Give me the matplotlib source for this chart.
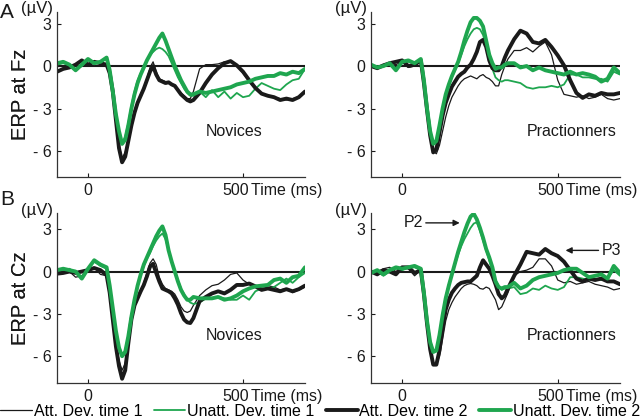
import numpy as np
import matplotlib
matplotlib.use("Agg")
import matplotlib.pyplot as plt
from matplotlib.transforms import ScaledTranslation

plt.rcParams['font.family'] = ['Liberation Sans', 'DejaVu Sans']

# time axis (ms), shared by every curve
t = [-100, -80, -60, -40, -20, 0, 20, 40, 60,
     70, 80, 90, 100, 110, 120, 130, 140, 150, 160, 170, 180, 190, 200,
     210, 220, 230, 240, 250, 260, 270, 280, 290, 300, 310, 320, 330, 340,
     360, 380, 400, 420, 440, 460, 480, 500, 520, 540, 560, 580, 600, 620,
     640, 660, 680, 700]

# --- A: Fz, novices
fz_nov_att1 = [-0.4, -0.2, -0.1, 0.1, 0.4, 0.1, 0.3, 0.2, 0.1,
               -0.5, -1.8, -3.7, -5.6, -6.5, -6.1, -5.2, -4.1, -3.2, -2.5, -2.0, -1.5, -0.9, -0.1,
               0.3, -0.4, -0.9, -1.0, -1.1, -1.1, -1.3, -1.4, -1.7, -1.9, -2.1, -2.3, -2.3, -1.8,
               -0.2, 0.1, 0.1, 0.15, 0.3, 0.3, 0.0, -0.5, -1.1, -1.6, -2.0, -2.1, -2.2, -2.3,
               -2.4, -2.3, -2.2, -1.9]
fz_nov_unatt1 = [0.1, 0.2, 0.1, -0.2, 0.0, 0.4, 0.2, 0.3, 0.5,
                 -0.3, -1.8, -3.4, -4.6, -5.4, -5.0, -4.0, -2.8, -1.8, -1.0, -0.5, 0.0, 0.4, 0.8,
                 1.0, 1.2, 1.3, 1.2, 1.0, 0.7, 0.2, -0.3, -0.8, -1.2, -1.6, -1.9, -2.1, -2.1,
                 -1.8, -2.2, -1.7, -2.2, -1.8, -2.3, -1.9, -2.2, -2.1, -1.6, -1.2, -1.4, -1.6, -1.7,
                 -1.3, -1.0, -0.9, -0.2]
fz_nov_att2 = [-0.4, -0.2, -0.1, 0.1, 0.4, 0.1, 0.3, 0.2, 0.1,
               -0.5, -1.8, -3.8, -5.8, -6.8, -6.4, -5.3, -4.2, -3.3, -2.6, -2.1, -1.6, -1.0, -0.4,
               0.0, -0.6, -1.0, -1.1, -1.2, -1.15, -1.3, -1.4, -1.7, -2.0, -2.2, -2.4, -2.5, -2.4,
               -1.9, -1.2, -0.6, -0.15, 0.2, 0.35, 0.05, -0.4, -1.0, -1.55, -1.95, -2.1, -2.2, -2.4,
               -2.3, -2.4, -2.2, -1.8]
fz_nov_unatt2 = [0.2, 0.3, 0.1, -0.3, 0.1, 0.5, 0.2, 0.3, 0.6,
                 -0.3, -1.8, -3.4, -4.6, -5.5, -5.2, -4.2, -3.0, -2.0, -1.2, -0.6, -0.1, 0.4, 0.8,
                 1.2, 1.6, 2.0, 2.3, 1.8, 1.2, 0.6, 0.0, -0.5, -1.0, -1.4, -1.8, -2.0, -2.0,
                 -1.8, -1.9, -1.8, -1.7, -1.6, -1.5, -1.3, -1.2, -1.1, -0.9, -0.8, -0.7, -0.7, -0.5,
                 -0.6, -0.4, -0.5, -0.2]

# --- A: Fz, practitioners
fz_pra_att1 = [0.1, -0.2, 0.0, 0.2, 0.1, 0.3, -0.1, 0.0, 0.3,
               -1.3, -3.2, -5.0, -6.0, -6.2, -5.6, -4.6, -3.6, -2.8, -2.2, -1.8, -1.4, -1.1, -0.9,
               -0.8, -0.7, -0.8, -0.9, -0.7, -0.6, -0.8, -0.9, -1.1, -1.4, -1.4, -0.6, 0.0, 0.5,
               1.1, 1.1, 1.3, 1.0, 1.4, 1.7, 0.8, -1.0, -2.0, -2.1, -2.2, -2.1, -2.3, -2.2,
               -2.0, -2.3, -2.4, -2.3]
fz_pra_unatt1 = [0.0, -0.1, 0.1, 0.2, -0.2, 0.3, 0.3, 0.2, 0.5,
                 -1.0, -3.0, -4.6, -5.4, -5.2, -4.2, -3.0, -2.0, -1.4, -0.8, -0.3, 0.2, 0.8, 1.4,
                 1.9, 2.3, 2.6, 2.7, 2.6, 2.2, 1.4, 0.5, -0.2, -0.8, -1.0, -1.1, -1.0, -1.0,
                 -1.1, -1.2, -1.5, -1.6, -1.5, -1.5, -1.4, -1.5, -1.3, -0.6, -0.6, -0.8, -0.8, -0.9,
                 -0.9, -1.1, -0.4, -0.6]
fz_pra_att2 = [0.0, -0.15, 0.05, 0.2, 0.3, 0.4, 0.0, 0.1, 0.4,
               -1.2, -3.1, -4.9, -6.1, -5.9, -4.7, -3.5, -2.6, -2.0, -1.45, -1.1, -0.75, -0.55, -0.4,
               -0.1, 0.1, 0.5, 1.0, 1.7, 1.85, 1.35, 0.4, -0.15, -0.3, -0.3, 0.0, 0.6, 1.1,
               1.9, 2.5, 2.3, 1.7, 1.6, 1.85, 1.35, 0.75, 0.05, -1.0, -1.9, -2.25, -2.0, -2.1,
               -1.9, -2.0, -2.0, -1.9]
fz_pra_unatt2 = [0.1, -0.1, 0.0, 0.2, -0.3, 0.3, 0.4, 0.2, 0.5,
                 -1.0, -3.0, -4.6, -5.5, -5.3, -4.2, -3.0, -2.0, -1.3, -0.7, -0.2, 0.3, 1.0, 1.8,
                 2.5, 3.1, 3.4, 3.4, 3.2, 2.8, 1.8, 0.8, 0.2, -0.2, -0.1, -0.1, 0.1, 0.2,
                 0.2, -0.1, 0.0, -0.3, -0.1, -0.3, -0.4, -0.5, -0.6, -0.4, -0.6, -0.5, -0.6, -0.75,
                 -1.1, -0.9, -0.1, -0.5]

# --- B: Cz, novices
cz_nov_att1 = [-0.2, -0.1, 0.0, -0.4, -0.3, 0.2, 0.3, -0.2, -0.3,
               -1.4, -3.2, -5.0, -6.3, -7.0, -6.5, -5.0, -3.5, -2.5, -2.0, -1.4, -0.8, -0.1, 0.6,
               0.9, 0.5, -0.4, -0.9, -1.2, -1.3, -1.4, -1.6, -2.0, -2.5, -2.8, -2.9, -2.8, -2.4,
               -1.7, -1.3, -1.0, -0.9, -0.6, -0.2, -0.1, -0.6, -0.9, -1.0, -1.1, -1.0, -1.1, -1.3,
               -1.2, -1.5, -1.3, -1.1]
cz_nov_unatt1 = [0.2, 0.1, 0.2, -0.1, -0.4, 0.2, 0.7, 0.4, 0.2,
                 -1.0, -2.6, -4.2, -5.3, -5.9, -5.6, -4.5, -3.1, -2.0, -1.0, -0.3, 0.4, 0.9, 1.3,
                 1.8, 2.2, 2.5, 2.7, 2.3, 1.5, 0.7, 0.0, -0.6, -1.2, -1.6, -2.0, -2.2, -2.3,
                 -2.2, -1.9, -1.9, -1.8, -1.9, -2.0, -2.0, -1.7, -2.0, -1.4, -1.2, -1.2, -1.1, -0.8,
                 -0.5, -0.8, -0.4, -0.1]
cz_nov_att2 = [-0.15, -0.1, 0.0, -0.1, 0.0, 0.1, 0.25, 0.1, -0.25,
               -1.5, -3.4, -5.3, -6.7, -7.6, -7.0, -5.1, -3.4, -2.4, -1.9, -1.4, -0.95, -0.35, 0.35,
               0.55, -0.1, -0.7, -1.2, -1.3, -1.4, -1.55, -1.9, -2.35, -2.95, -3.4, -3.6, -3.65, -3.3,
               -2.1, -1.8, -1.55, -1.4, -1.55, -1.3, -0.95, -0.95, -0.85, -1.05, -1.3, -1.2, -1.3, -1.4,
               -1.25, -1.4, -1.25, -1.0]
cz_nov_unatt2 = [0.1, 0.2, 0.1, 0.0, -0.5, 0.2, 0.8, 0.5, 0.3,
                 -1.0, -2.6, -4.2, -5.4, -6.0, -5.7, -4.6, -3.2, -2.0, -1.0, -0.2, 0.5, 1.0, 1.5,
                 2.0, 2.5, 2.9, 3.2, 2.6, 1.5, 0.7, 0.0, -0.7, -1.3, -1.7, -2.0, -2.0, -1.8,
                 -1.9, -1.9, -1.9, -1.8, -2.0, -1.9, -1.7, -1.4, -1.2, -1.05, -1.0, -0.95, -0.6, -0.5,
                 -0.8, -0.4, -0.3, 0.3]

# --- B: Cz, practitioners
cz_pra_att1 = [-0.1, 0.0, 0.2, 0.3, 0.0, 0.3, 0.2, -0.3, 0.1,
               -1.8, -3.9, -5.7, -6.5, -6.6, -6.0, -4.8, -3.5, -2.7, -2.2, -1.8, -1.5, -1.2, -1.0,
               -0.9, -0.85, -0.9, -1.0, -1.2, -1.25, -1.1, -1.2, -1.6, -2.0, -2.7, -2.5, -2.0, -1.5,
               -0.3, 0.0, 0.1, 0.3, 0.9, 0.9, 0.4, -0.6, -0.8, -0.7, -0.9, -0.8, -0.7, -0.9,
               -1.0, -1.1, -1.3, -1.2]
cz_pra_unatt1 = [-0.1, 0.0, -0.3, 0.0, 0.2, 0.1, 0.3, 0.3, 0.1,
                 -1.5, -3.4, -4.9, -5.6, -5.5, -4.4, -3.0, -1.8, -0.9, -0.1, 0.5, 1.2, 1.8, 2.3,
                 2.7, 3.1, 3.4, 3.5, 2.9, 2.2, 1.5, 0.8, 0.1, -0.6, -1.0, -1.3, -1.2, -1.2,
                 -1.1, -1.6, -1.5, -1.2, -1.3, -1.0, -1.2, -1.3, -1.1, -0.4, -0.4, -0.5, -0.6, -0.5,
                 -0.6, -0.5, 0.1, -0.3]
cz_pra_att2 = [0.0, -0.2, 0.1, 0.0, -0.2, 0.3, 0.3, -0.1, 0.1,
               -1.6, -3.7, -5.5, -6.6, -6.6, -5.6, -4.0, -2.7, -2.0, -1.5, -1.2, -0.95, -0.8, -0.75,
               -0.7, -0.7, -0.5, -0.3, 0.3, 0.8, 0.5, 0.2, -0.3, -0.9, -1.6, -1.9, -1.7, -1.2,
               -0.3, 0.5, 1.4, 1.3, 1.2, 1.6, 1.3, 1.1, 0.7, 0.1, -0.5, -0.7, -0.5, -0.6,
               -0.5, -0.7, -0.7, -0.9]
cz_pra_unatt2 = [-0.1, 0.1, -0.2, 0.1, 0.3, 0.2, 0.3, 0.4, 0.2,
                 -1.5, -3.5, -5.0, -5.7, -5.6, -4.5, -3.1, -1.9, -1.0, -0.2, 0.6, 1.4, 2.1, 2.8,
                 3.4, 3.9, 4.1, 3.7, 3.1, 2.4, 1.6, 1.0, 0.3, -0.7, -1.1, -1.2, -1.1, -1.1,
                 -0.8, -1.2, -1.0, -0.6, -0.4, -0.3, -0.2, -0.1, 0.1, 0.2, 0.2, -0.1, -0.4, -0.3,
                 -0.2, -0.5, 0.4, -0.1]

legend_labels = ['Att. Dev. time 1', 'Unatt. Dev. time 1',
                 'Att. Dev. time 2', 'Unatt. Dev. time 2']
yticks = [3, 0, -3, -6]
ytick_labels = ['3', '0', '- 3', '- 6']

green = '#1fa64f'
ink = '#1a1a1a'
styles = [(ink, 0.9), (green, 1.3), (ink, 2.8), (green, 2.8)]

fig = plt.figure(figsize=(6.4, 4.19), dpi=100)
W, H = 640, 419


def make_axes(x0, x1, ytop, ybot):
    return fig.add_axes([x0 / W, 1 - ybot / H, (x1 - x0) / W, (ybot - ytop) / H])


panels = [
    (make_axes(57, 305, 12, 177), [fz_nov_att1, fz_nov_unatt1, fz_nov_att2, fz_nov_unatt2],
     'Novices', 'ERP at Fz', (-7.84, 3.82)),
    (make_axes(371, 620, 12, 177), [fz_pra_att1, fz_pra_unatt1, fz_pra_att2, fz_pra_unatt2],
     'Practionners', 'ERP at Fz', (-7.84, 3.82)),
    (make_axes(57, 305, 213, 383), [cz_nov_att1, cz_nov_unatt1, cz_nov_att2, cz_nov_unatt2],
     'Novices', 'ERP at Cz', (-7.9, 4.15)),
    (make_axes(371, 620, 213, 383), [cz_pra_att1, cz_pra_unatt1, cz_pra_att2, cz_pra_unatt2],
     'Practionners', 'ERP at Cz', (-7.9, 4.15)),
]

handles = []
for i, (ax, series, group, ylab, ylim) in enumerate(panels):
    ax.axhline(0, color=ink, lw=1.5, zorder=1)
    hs = []
    for (col, lw), y, lab in zip(styles, series, legend_labels):
        h, = ax.plot(t, y, color=col, lw=lw, solid_joinstyle='round',
                     solid_capstyle='round', label=lab, zorder=2)
        hs.append(h)
    if i == 0:
        handles = hs
    ax.set_xlim(-100, 700)
    ax.set_ylim(*ylim)
    ax.set_xticks([0, 500])
    ax.set_xticklabels(['0', '500'])
    ax.set_yticks(yticks)
    ax.set_yticklabels(ytick_labels)
    ax.tick_params(direction='in', length=3, width=0.8, labelsize=11.5,
                   colors=ink, pad=4)
    for s in ['top', 'right']:
        ax.spines[s].set_visible(False)
    for s in ['left', 'bottom']:
        ax.spines[s].set_linewidth(0.9)
        ax.spines[s].set_color('#333333')
    ax.set_facecolor('none')
    # shift the "500" label a little to the left, as in the figure
    lbl = ax.get_xticklabels()[1]
    lbl.set_transform(lbl.get_transform() + ScaledTranslation(-7 / 100, 0, fig.dpi_scale_trans))
    ax.annotate('Time (ms)', xy=(500, 0), xycoords=('data', 'axes fraction'),
                xytext=(8, -6), textcoords='offset pixels', ha='left', va='top',
                fontsize=11.5, color=ink)
    ax.annotate('(µV)', xy=(0, 1), xycoords='axes fraction', xytext=(-4, 3),
                textcoords='offset pixels', ha='right', va='center',
                fontsize=12, color=ink)
    gx = 545 if group == 'Practionners' else 471
    gy = -4.65 if i < 2 else -4.5
    ax.text(gx, gy, group, ha='center', va='center', fontsize=11.5, color=ink)
    pos = ax.get_position()
    fig.text(21 / W, pos.y0 + pos.height / 2, ylab, rotation=90, ha='center',
             va='center', fontsize=14.5, color=ink)

fig.text(0, 1 - 18 / H, 'A', fontsize=15, va='baseline', ha='left', color=ink)
fig.text(0, 1 - 205 / H, 'B', fontsize=15, va='baseline', ha='left', color=ink)

# P2 / P3 markers
axp = panels[3][0]
axp.annotate('', xy=(185, 3.45), xytext=(76, 3.45),
             arrowprops=dict(arrowstyle='-|>', color=ink, lw=1, mutation_scale=9,
                             shrinkA=0, shrinkB=0))
axp.text(68, 3.45, 'P2', ha='right', va='center', fontsize=11.5, color=ink)
axp.annotate('', xy=(525, 1.5), xytext=(631, 1.5),
             arrowprops=dict(arrowstyle='-|>', color=ink, lw=1, mutation_scale=9,
                             shrinkA=0, shrinkB=0))
axp.text(642, 1.5, 'P3', ha='left', va='center', fontsize=11.5, color=ink)

fig.legend(handles, legend_labels, ncol=4, loc='lower center', bbox_to_anchor=(0.5, 0.0),
           frameon=False, fontsize=11.5, handlelength=2.0, handletextpad=0.12,
           columnspacing=0.69, borderaxespad=0, borderpad=0)

fig.savefig('out.png', dpi=100)
